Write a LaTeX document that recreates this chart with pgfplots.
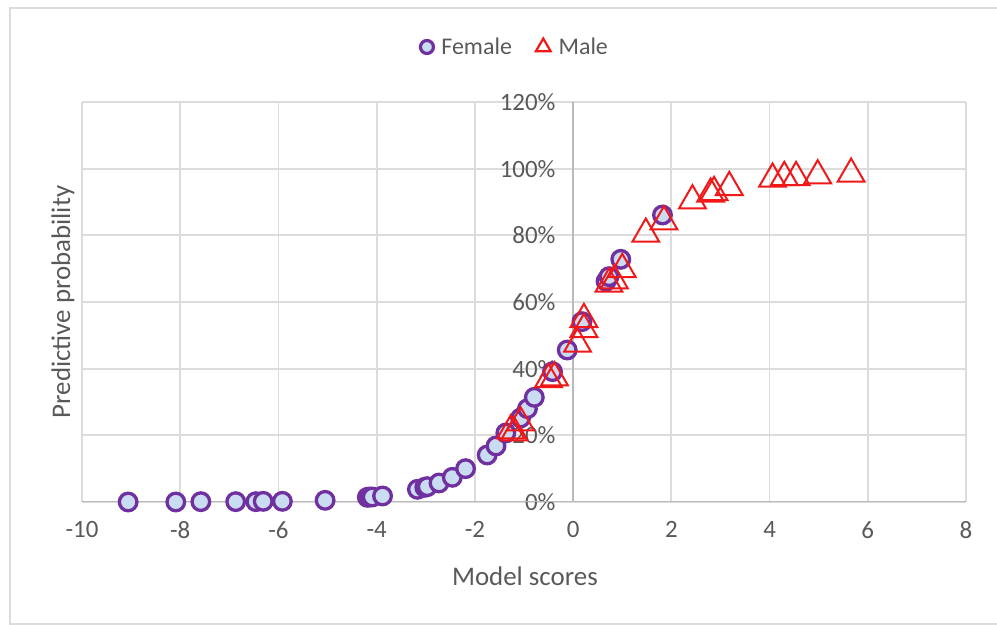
\documentclass[border=0pt]{standalone}
\usepackage{fontspec}
\setmainfont{Carlito}
\usepackage{pgfplots}
\pgfplotsset{compat=1.18}
\definecolor{fpurple}{HTML}{7030A0}
\definecolor{ffill}{HTML}{C9DCF1}
\definecolor{mred}{HTML}{F01818}
\definecolor{gridc}{HTML}{DCDCDC}
\definecolor{axc}{HTML}{BABABA}
\definecolor{txt}{HTML}{595959}
\begin{document}
\begin{tikzpicture}[x=1bp,y=1bp]
\useasboundingbox (0,0) rectangle (997,625);
\draw[color=gridc, line width=1.5bp] (997,617) -- (10,617) -- (10,1) -- (997,1);
\begin{axis}[
  at={(82bp,123bp)}, anchor=south west,
  scale only axis, width=884bp, height=400bp,
  xmin=-10, xmax=8, ymin=0, ymax=1.2,
  xtick={-10,-8,-6,-4,-2,0,2,4,6,8},
  xticklabels={-10,-8,-6,-4,-2,0,2,4,6,8},
  ytick={0,0.2,0.4,0.6,0.8,1.0,1.2},
  yticklabels={0\%,20\%,40\%,60\%,80\%,100\%,120\%},
  /pgf/number format/assume math mode=true,
  axis line style={draw=none},
  major tick length=0pt,
  grid=major,
  major grid style={color=gridc, line width=1.8bp},
  tick label style={font=\fontsize{25}{30}\selectfont, text=txt},
  xticklabel style={yshift=-16bp},
  yticklabel style={xshift=477bp},
  label style={font=\fontsize{27}{32}\selectfont, text=txt},
  xlabel={Model scores},
  ylabel={Predictive probability},
  xlabel style={at={(axis description cs:0.501,-0.185)}, anchor=center},
  ylabel style={at={(axis description cs:-0.0215,0.5)}, anchor=center, rotate=0},
  legend style={at={(axis description cs:0.49,1.1375)}, anchor=center,
    draw=none, fill=none, font=\fontsize{24}{28}\selectfont, text=txt,
    legend columns=2,
    /tikz/every odd column/.append style={column sep=6bp},
    /tikz/every even column/.append style={column sep=22bp}},
]
\addplot[color=axc, line width=1.8bp, forget plot] coordinates {(0,0) (0,1.2)};
\addplot[color=axc, line width=1.8bp, forget plot] coordinates {(-10,0) (8,0)};
\addplot[only marks, mark=*, mark size=8.8bp, line width=3.3bp,
  mark options={draw=fpurple, fill=ffill}, forget plot] table {
x y
-9.06 0.000
-8.09 0.000
-7.58 0.001
-6.87 0.001
-6.46 0.001
-6.31 0.002
-5.92 0.002
-5.05 0.005
-4.19 0.014
-4.15 0.015
-4.09 0.015
-3.88 0.018
-3.17 0.038
-3.02 0.044
-2.97 0.046
-2.73 0.057
-2.46 0.074
-2.19 0.100
-1.75 0.141
-1.57 0.168
-1.37 0.207
-1.07 0.252
-0.93 0.280
-0.79 0.314
-0.42 0.391
-0.12 0.456
0.18 0.541
0.67 0.662
0.73 0.676
0.97 0.728
1.82 0.861
};
\addplot[only marks, mark=triangle, mark size=15.5bp, line width=2bp,
  mark options={draw=mred, fill=none}, forget plot] table {
x y
-1.27 0.214
-1.20 0.208
-1.07 0.238
-0.50 0.368
-0.38 0.373
0.09 0.474
0.22 0.518
0.22 0.548
0.73 0.654
0.84 0.664
1.00 0.698
1.48 0.804
1.85 0.841
2.43 0.904
2.80 0.924
2.87 0.929
3.18 0.944
4.06 0.969
4.30 0.974
4.54 0.974
4.98 0.979
5.66 0.984
};
\addlegendimage{only marks, mark=*, mark size=6.5bp, line width=3.2bp, mark options={draw=fpurple, fill=ffill}}
\addlegendentry{Female}
\addlegendimage{only marks, mark=triangle, mark size=8.5bp, line width=2.2bp, mark options={draw=mred, fill=none}}
\addlegendentry{Male}
\end{axis}
\end{tikzpicture}
\end{document}
